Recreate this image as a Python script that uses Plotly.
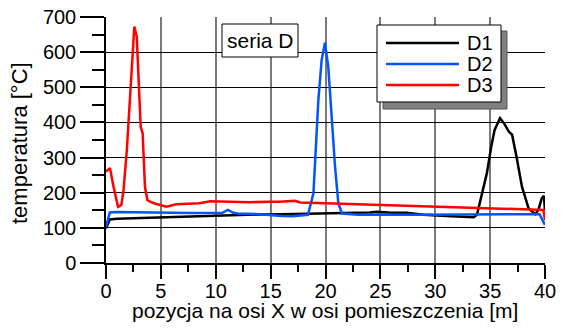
import plotly.graph_objects as go

# Measured temperature profiles along the room axis, series D
d1_x = [0, 0.35, 1, 2, 4, 6, 8, 10, 12, 14, 16, 18, 20, 22, 24, 24.7, 26, 27.4, 28.9,
        31, 33, 33.5, 33.8, 34.2, 34.7, 35.1, 35.4, 35.9, 36.3, 36.7, 37.0, 37.4, 37.9,
        38.5, 39.1, 39.4, 39.7, 39.9, 40]
d1_y = [99, 124, 126, 127, 130, 132, 134, 136, 137, 138, 139, 140, 141, 142, 144, 146, 143,
        143, 137, 134, 131, 130, 137, 189, 255, 331, 378, 412, 396, 374, 365, 303, 217,
        156, 139, 151, 184, 191, 150]

d2_x = [0, 0.35, 1, 2, 4, 6, 8, 10, 10.6, 11.1, 11.6, 12, 14, 16, 17, 18.4, 18.9, 19.35,
        19.65, 19.95, 20.25, 20.56, 20.87, 21.17, 21.5, 23, 25, 28, 31, 34, 37, 39.5, 40]
d2_y = [103, 144, 145, 145, 144, 143, 142, 144, 143, 151, 143, 141, 139, 134, 133, 137,
        198, 464, 578, 627, 559, 417, 274, 170, 141, 137, 138, 137, 138, 137, 138, 139, 108]

d3_x = [0, 0.36, 0.7, 1.1, 1.4, 1.6, 1.9, 2.2, 2.58, 2.8, 3.1, 3.16, 3.34, 3.55, 3.77,
        4.2, 4.6, 5.5, 6.4, 7.4, 8.5, 9.5, 11.3, 13.1, 14.9, 15.85, 17.2, 17.7, 20, 25,
        30, 34.1, 37, 39.85, 40]
d3_y = [260, 270, 215, 160, 165, 208, 322, 464, 673, 645, 464, 388, 369, 217, 179, 172,
        168, 160, 167, 168, 170, 176, 174, 173, 174, 174, 177, 172, 170, 165, 162, 158,
        155, 151, 122]

series_names = ["D1", "D2", "D3"]
series_colors = ["#000000", "#0055ff", "#ff0000"]

x_ticks = [0, 5, 10, 15, 20, 25, 30, 35, 40]
y_ticks = [0, 100, 200, 300, 400, 500, 600, 700]

x_title = "pozycja na osi X w osi pomieszczenia [m]"
y_title = "temperatura [°C]"
box_label = "seria D"

FONT = "Liberation Sans, Arial, sans-serif"
FS = 20
W, H = 563, 329
L, R, T, B = 106, 18, 17, 66
PW, PH = W - L - R, H - T - B


def px(x):
    return (x - L) / PW


def py(y):
    return (H - B - y) / PH


fig = go.Figure()
for xs, ys, name, col in zip([d1_x, d2_x, d3_x], [d1_y, d2_y, d3_y], series_names, series_colors):
    fig.add_trace(go.Scatter(x=xs, y=ys, mode="lines", name=name,
                             line=dict(color=col, width=2.5), showlegend=False))

shapes = []
annotations = []

# legend box with drop shadow
shapes.append(dict(type="rect", xref="paper", yref="paper", x0=px(383), x1=px(507),
                   y0=py(109), y1=py(31), fillcolor="#808080",
                   line=dict(color="#555555", width=1), layer="above"))
shapes.append(dict(type="rect", xref="paper", yref="paper", x0=px(377), x1=px(501),
                   y0=py(102), y1=py(25), fillcolor="white",
                   line=dict(color="#000000", width=1), layer="above"))
for i, (name, col) in enumerate(zip(series_names, series_colors)):
    yy = 43 + 21 * i
    shapes.append(dict(type="line", xref="paper", yref="paper", x0=px(386), x1=px(459),
                       y0=py(yy), y1=py(yy), line=dict(color=col, width=2.5), layer="above"))
    annotations.append(dict(xref="paper", yref="paper", x=px(465), y=py(yy), text=name,
                            showarrow=False, xanchor="left", yanchor="middle",
                            font=dict(family=FONT, size=FS, color="black")))

# series label box
shapes.append(dict(type="rect", xref="paper", yref="paper", x0=px(222), x1=px(298),
                   y0=py(57), y1=py(24), fillcolor="white",
                   line=dict(color="#000000", width=1), layer="above"))
annotations.append(dict(xref="paper", yref="paper", x=px(260), y=py(40.5), text=box_label,
                        showarrow=False, xanchor="center", yanchor="middle",
                        font=dict(family=FONT, size=21, color="black")))

# axis titles
annotations.append(dict(xref="paper", yref="paper", x=px(325), y=py(310), text=x_title,
                        showarrow=False, xanchor="center", yanchor="middle",
                        font=dict(family=FONT, size=21, color="black")))
annotations.append(dict(xref="paper", yref="paper", x=px(19.5), y=py(143.5), text=y_title,
                        showarrow=False, xanchor="center", yanchor="middle", textangle=-90,
                        font=dict(family=FONT, size=22, color="black")))

fig.update_layout(
    width=W, height=H,
    margin=dict(l=L, r=R, t=T, b=B, autoexpand=False),
    paper_bgcolor="white", plot_bgcolor="white",
    font=dict(family=FONT, size=FS, color="black"),
    shapes=shapes, annotations=annotations,
)
fig.update_xaxes(
    range=[0, 40], tickvals=x_ticks, ticktext=[str(v) for v in x_ticks],
    ticks="outside", ticklen=14, tickwidth=1.5, tickcolor="black",
    showgrid=True, gridcolor="#7a7a7a", gridwidth=1.5,
    showline=True, linecolor="black", linewidth=1.5, zeroline=False,
    minor=dict(dtick=2.5, tick0=0, ticks="outside", ticklen=7, tickwidth=1.5,
               tickcolor="black", showgrid=False),
    tickfont=dict(size=FS), automargin=False, ticklabelstandoff=-5,
)
fig.update_yaxes(
    range=[0, 700], tickvals=y_ticks, ticktext=[str(v) for v in y_ticks],
    ticks="outside", ticklen=24, tickwidth=1.5, tickcolor="black",
    showgrid=True, gridcolor="black", gridwidth=1.2,
    showline=True, linecolor="black", linewidth=1.5, zeroline=False,
    minor=dict(dtick=50, tick0=0, ticks="outside", ticklen=12, tickwidth=1.5,
               tickcolor="black", showgrid=False),
    tickfont=dict(size=FS), automargin=False,
)

fig.write_html("out.html")
